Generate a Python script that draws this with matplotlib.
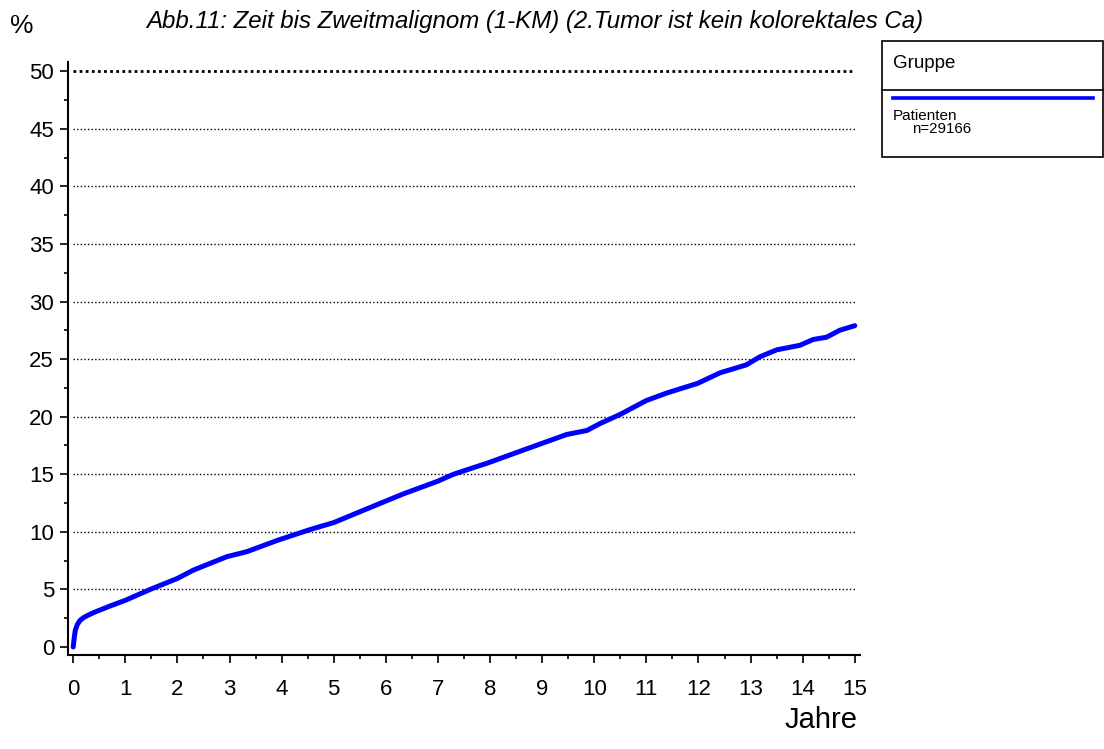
import matplotlib.pyplot as plt
from matplotlib.lines import Line2D
from matplotlib.patches import Rectangle
import numpy as np

plt.rcParams['font.family'] = ['Liberation Sans', 'DejaVu Sans']

# Kaplan-Meier (1-KM) Kurve
jahre = [0.0, 0.02, 0.04, 0.08, 0.13, 0.2, 0.26, 0.4, 0.71, 1.0, 1.48, 2.0, 2.31, 2.95,
         3.33, 3.94, 4.55, 5.0, 5.64, 6.34, 7.0, 7.3, 7.97, 8.58, 9.47, 9.86, 10.11,
         10.5, 11.0, 11.39, 11.99, 12.41, 12.92, 13.18, 13.5, 13.95, 14.2, 14.46,
         14.71, 15.0]
prozent = [0.0, 0.8, 1.45, 1.95, 2.3, 2.55, 2.7, 3.0, 3.56, 4.05, 5.0, 5.95, 6.68, 7.84,
           8.27, 9.29, 10.2, 10.8, 12.0, 13.3, 14.4, 15.0, 16.0, 17.0, 18.45, 18.8, 19.4,
           20.2, 21.4, 22.05, 22.9, 23.8, 24.5, 25.2, 25.8, 26.2, 26.7, 26.9,
           27.5, 27.9]

y_ticks = np.arange(0, 51, 5)
x_ticks = np.arange(0, 16, 1)

fig = plt.figure(figsize=(11.04, 7.49), dpi=100)
ax = fig.add_axes([68 / 1104, 1 - 655 / 749, (860 - 68) / 1104, (655 - 62) / 749])

ax.hlines(y_ticks[1:-1], 0, 15, colors='black', linestyles=(0, (1, 1.6)), linewidth=1.0)
ax.hlines([50], 0, 15, colors='black', linestyles=(0, (1, 1.2)), linewidth=2.0)

ax.plot(jahre, prozent, color='#0000ff', linewidth=3.6, solid_capstyle='round',
        solid_joinstyle='round')

ax.set_xlim(-0.1, 15.1)
ax.set_ylim(-0.7, 50.8)
ax.set_xticks(x_ticks)
ax.set_xticks(np.arange(0.5, 15, 0.5), minor=True)
ax.set_yticks(y_ticks)
ax.set_yticks(np.arange(2.5, 50, 5), minor=True)
ax.tick_params(axis='both', which='major', length=6, width=1.2, labelsize=16, direction='out')
ax.tick_params(axis='both', which='minor', length=3, width=1.2, direction='out')
ax.tick_params(axis='x', pad=11)
ax.tick_params(axis='y', pad=4)
for s in ['top', 'right']:
    ax.spines[s].set_visible(False)
for s in ['left', 'bottom']:
    ax.spines[s].set_linewidth(1.5)

fig.text(22 / 1104, 1 - 26 / 749, '%', fontsize=19, ha='center', va='center')
fig.text(535 / 1104, 1 - 28 / 749,
         'Abb.11: Zeit bis Zweitmalignom (1-KM) (2.Tumor ist kein kolorektales Ca)',
         fontsize=17.3, style='italic', ha='center', va='baseline')
fig.text(821 / 1104, 1 - 728 / 749, 'Jahre', fontsize=21, ha='center', va='baseline')

# Legende
fig.patches.append(Rectangle((882 / 1104, 1 - 157 / 749), (1103 - 882) / 1104, (157 - 41) / 749,
                             transform=fig.transFigure, fill=False, edgecolor='black', linewidth=1.2))
fig.lines.append(Line2D([882 / 1104, 1103 / 1104], [1 - 90 / 749, 1 - 90 / 749],
                        transform=fig.transFigure, color='black', linewidth=1.2))
fig.lines.append(Line2D([893 / 1104, 1093 / 1104], [1 - 98 / 749, 1 - 98 / 749],
                        transform=fig.transFigure, color='#0000ff', linewidth=2.6))
fig.text(893 / 1104, 1 - 63 / 749, 'Gruppe', fontsize=13.5, ha='left', va='center')
fig.text(893 / 1104, 1 - 116 / 749, 'Patienten', fontsize=11, ha='left', va='center')
fig.text(912 / 1104, 1 - 129 / 749, 'n=29166', fontsize=10.8, ha='left', va='center')

fig.savefig('out.png', dpi=100)
